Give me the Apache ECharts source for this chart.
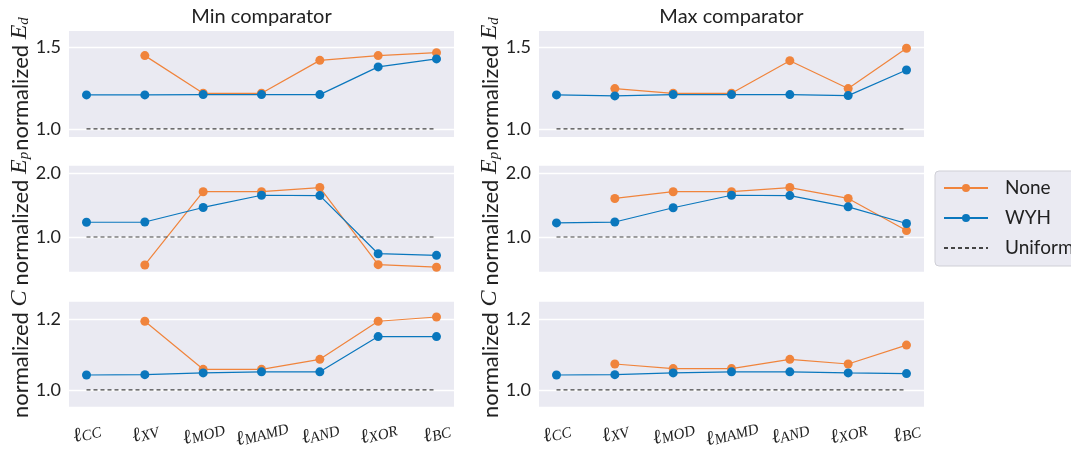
<!DOCTYPE html>
<html><head><meta charset="utf-8">
<script src="https://cdn.jsdelivr.net/npm/echarts@6/dist/echarts.min.js"></script>
<style>html,body{margin:0;padding:0;background:#fff}#c{width:1071px;height:462px}</style>
</head><body><div id="c"></div>
<script>
const categories = ['CC','XV','MOD','MAMD','AND','XOR','BC'];
const panelTitles = ['Min comparator','Max comparator'];
const metricSymbols = [['E','d'],['E','p'],['C','']];

const edMinNone = [null,1.449,1.218,1.218,1.420,1.449,1.467];
const edMinWYH  = [1.208,1.208,1.210,1.210,1.210,1.380,1.429];
const edMaxNone = [null,1.247,1.218,1.218,1.418,1.247,1.494];
const edMaxWYH  = [1.208,1.202,1.210,1.210,1.210,1.204,1.361];
const epMinNone = [null,0.565,1.705,1.705,1.770,0.570,0.530];
const epMinWYH  = [1.230,1.233,1.460,1.650,1.645,0.740,0.715];
const epMaxNone = [null,1.600,1.705,1.705,1.770,1.600,1.100];
const epMaxWYH  = [1.220,1.233,1.455,1.650,1.645,1.470,1.210];
const cMinNone  = [null,1.193,1.058,1.058,1.086,1.193,1.205];
const cMinWYH   = [1.042,1.043,1.048,1.051,1.051,1.150,1.150];
const cMaxNone  = [null,1.073,1.060,1.060,1.086,1.073,1.126];
const cMaxWYH   = [1.042,1.043,1.048,1.051,1.051,1.048,1.046];
const uniformValue = 1.0;

const yRanges = [[0.95,1.6],[0.46,2.11],[0.953,1.248]];
const yTicks = [[1.0,1.5],[1.0,2.0],[1.0,1.2]];

const panels = [
  [edMinNone, edMinWYH], [edMaxNone, edMaxWYH],
  [epMinNone, epMinWYH], [epMaxNone, epMaxWYH],
  [cMinNone, cMinWYH],   [cMaxNone, cMaxWYH]
];

const ORANGE = '#f0843c', BLUE = '#0a77bd';
const rowsTop = [31, 165.7, 301.7];
const rowsH = [106, 106, 105];
const colsLeft = [69, 539];
const colW = 385;
const xPad = colW * 0.3 / 6.6;
const FONT = 'Lato';

const grids = [], xAxes = [], yAxes = [], series = [];

for (let r=0;r<3;r++){
  for (let c=0;c<2;c++){
    const k = r*2+c;
    const bg = grids.length, dg = bg+1;
    grids.push({left: colsLeft[c], top: rowsTop[r], width: colW, height: rowsH[r],
      show: true, backgroundColor: '#eaeaf2', borderWidth: 0});
    grids.push({left: colsLeft[c]+xPad, top: rowsTop[r], width: colW-2*xPad, height: rowsH[r], show:false});
    xAxes.push({type:'value', gridIndex:bg, show:false, min:0, max:1});
    xAxes.push({type:'category', gridIndex:dg, data:categories, boundaryGap:false,
      axisLine:{show:false}, axisTick:{show:false}, splitLine:{show:false},
      axisLabel:{show: r===2, interval:0, rotate:15, margin:25, align:'center', verticalAlign:'middle',
        formatter: v => '{l|ℓ}{s|' + v + '}',
        rich:{
          l:{fontFamily:'DejaVu Serif', fontStyle:'italic', fontSize:20, color:'#222', lineHeight:24, verticalAlign:'bottom'},
          s:{fontFamily:'Liberation Serif', fontStyle:'italic', fontSize:15, color:'#222', lineHeight:15, verticalAlign:'bottom'}
        }}
    });
    const sym = metricSymbols[r];
    yAxes.push({type:'value', gridIndex:bg, min:yRanges[r][0], max:yRanges[r][1],
      axisLine:{show:false},
      axisTick:{show:false, customValues: yTicks[r]},
      splitLine:{show:true, lineStyle:{color:'#ffffff', width:1.3}},
      axisLabel:{customValues: yTicks[r], formatter: v=>v.toFixed(1), fontFamily:FONT, fontSize:18, color:'#222', margin:8},
      name: '{n|normalized }{m|' + sym[0] + '}' + (sym[1] ? '{b|' + sym[1] + '}' : ''),
      nameLocation:'middle', nameGap:32, nameRotate:90,
      nameTextStyle:{color:'#222', rich:{
        n:{fontFamily:FONT, fontSize:22, color:'#222', lineHeight:26, verticalAlign:'bottom'},
        m:{fontFamily:'Liberation Serif', fontStyle:'italic', fontSize:24, color:'#222', lineHeight:26, verticalAlign:'bottom'},
        b:{fontFamily:'Liberation Serif', fontStyle:'italic', fontSize:15, color:'#222', lineHeight:15, verticalAlign:'bottom'}
      }}
    });
    yAxes.push({type:'value', gridIndex:dg, min:yRanges[r][0], max:yRanges[r][1], show:false, splitLine:{show:false}});
    const [noneArr, wyhArr] = panels[k];
    series.push({name:'None', type:'line', xAxisIndex:dg, yAxisIndex:dg, data:noneArr.map(v=>v==null?'-':v),
      symbol:'circle', symbolSize:9, color:ORANGE, lineStyle:{width:1.2, color:ORANGE}, itemStyle:{color:ORANGE}, z:2});
    series.push({name:'WYH', type:'line', xAxisIndex:dg, yAxisIndex:dg, data:wyhArr,
      symbol:'circle', symbolSize:9, color:BLUE, lineStyle:{width:1.2, color:BLUE}, itemStyle:{color:BLUE}, z:3});
    series.push({name:'Uniform', type:'line', xAxisIndex:dg, yAxisIndex:dg,
      data:categories.map(()=>uniformValue),
      symbol:'none', color:'#444', lineStyle:{width:1.2, type:[4,3], color:'#444'}, z:4});
  }
}

const chart = echarts.init(document.getElementById('c'), null, {renderer:'canvas'});
chart.setOption({
  backgroundColor:'#ffffff',
  animation:false,
  title: panelTitles.map((t,i)=>({text:t, left: colsLeft[i]+colW/2, textAlign:'center', top:7, padding:0,
    textStyle:{fontFamily:FONT, fontSize:20, fontWeight:'normal', color:'#222'}})),
  legend:{data:['None','WYH',{name:'Uniform', itemStyle:{color:'rgba(0,0,0,0)', borderWidth:0, opacity:0}}],
    orient:'vertical', left:935, top:171,
    itemWidth:44, itemHeight:10, itemGap:10,
    backgroundColor:'#eaeaf2', borderColor:'#cfcfd6', borderWidth:1, borderRadius:4,
    padding:[7,30,8,8],
    textStyle:{fontFamily:FONT, fontSize:19, color:'#222', lineHeight:20, padding:[0,0,0,12]}},
  grid:grids, xAxis:xAxes, yAxis:yAxes, series:series
});
</script></body></html>
